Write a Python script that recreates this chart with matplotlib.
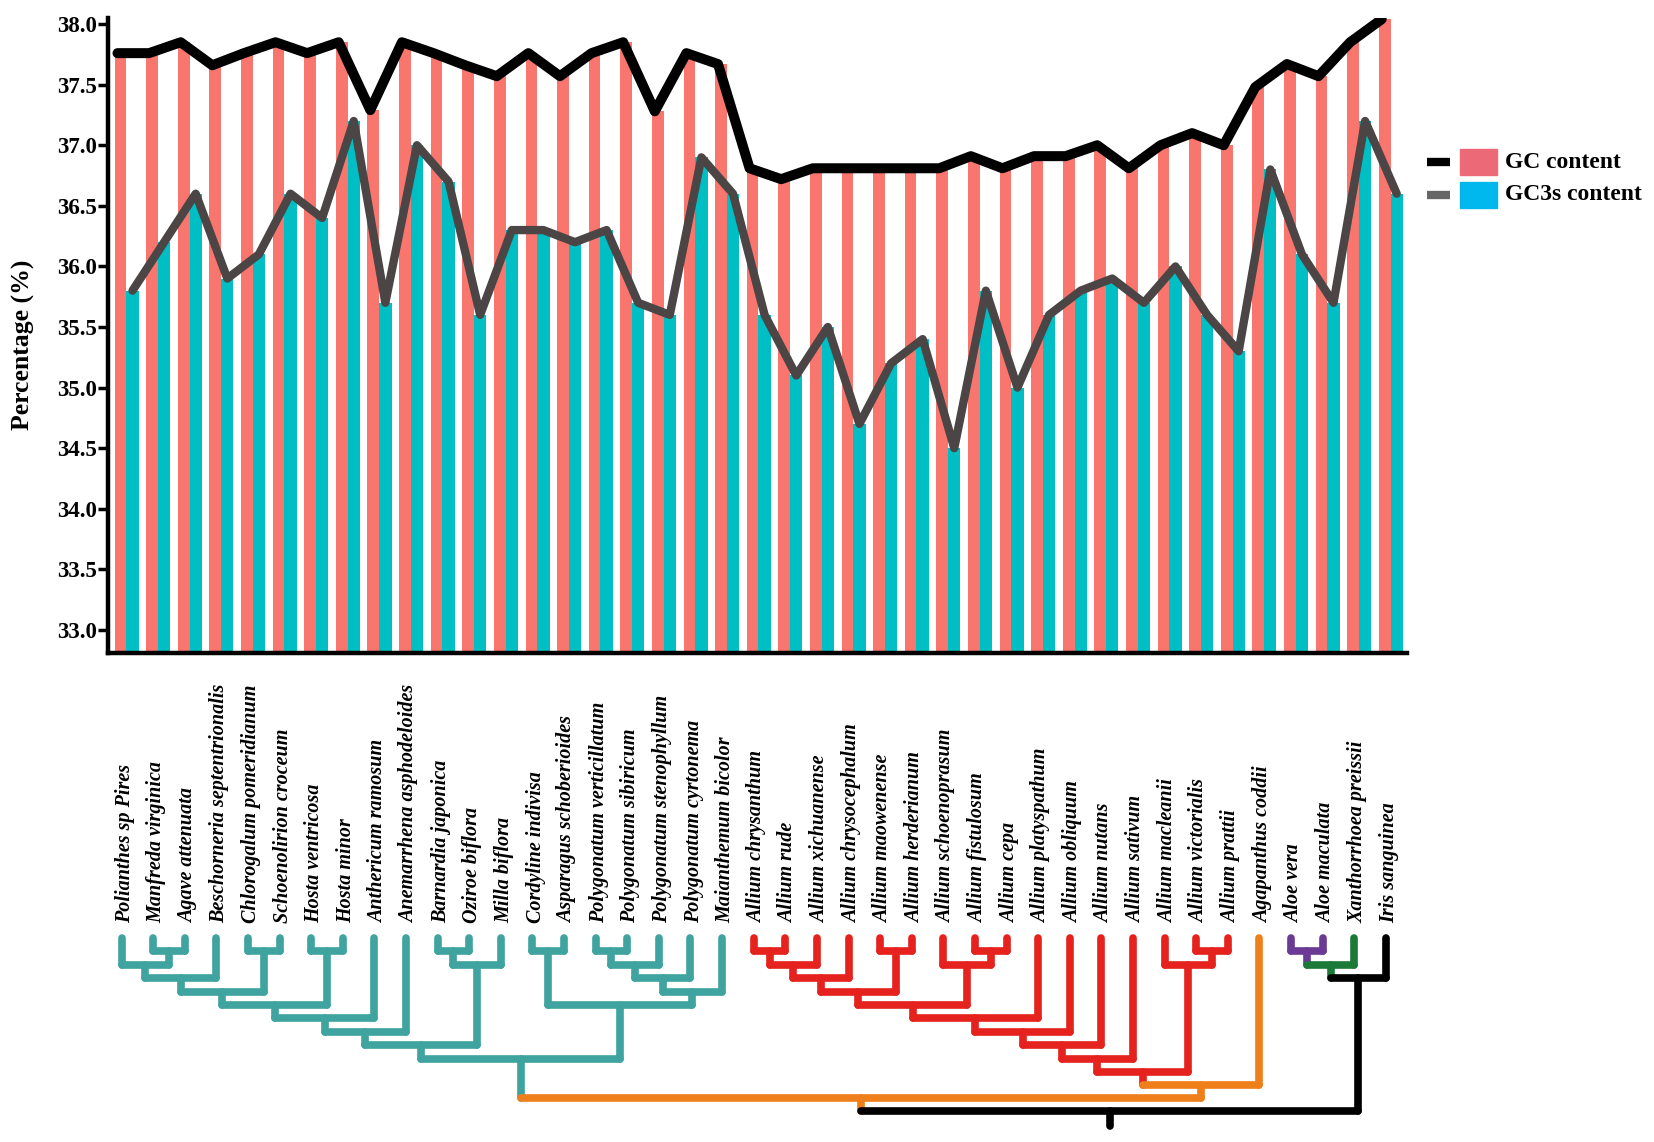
import matplotlib
matplotlib.use("Agg")
import matplotlib.pyplot as plt
from matplotlib.lines import Line2D
from matplotlib.patches import Rectangle
import numpy as np

# -------------------------------
# DATA
# -------------------------------
species = [
    "Polianthes sp Pires", "Manfreda virginica", "Agave attenuata",
    "Beschorneria septentrionalis", "Chlorogalum pomeridianum",
    "Schoenolirion croceum", "Hosta ventricosa", "Hosta minor",
    "Anthericum ramosum", "Anemarrhena asphodeloides", "Barnardia japonica",
    "Oziroe biflora", "Milla biflora", "Cordyline indivisa",
    "Asparagus schoberioides", "Polygonatum verticillatum",
    "Polygonatum sibiricum", "Polygonatum stenophyllum",
    "Polygonatum cyrtonema", "Maianthemum bicolor",
    "Allium chrysanthum", "Allium rude", "Allium xichuanense",
    "Allium chrysocephalum", "Allium maowenense", "Allium herderianum",
    "Allium schoenoprasum", "Allium fistulosum", "Allium cepa",
    "Allium platyspathum", "Allium obliquum", "Allium nutans",
    "Allium sativum", "Allium macleanii", "Allium victorialis",
    "Allium prattii", "Agapanthus coddii", "Aloe vera", "Aloe maculata",
    "Xanthorrhoea preissii", "Iris sanguinea",
]

gc_content = [
    37.76, 37.76, 37.85, 37.66, 37.76, 37.85, 37.76, 37.85, 37.29, 37.85,
    37.76, 37.66, 37.57, 37.76, 37.57, 37.76, 37.85, 37.28, 37.76, 37.67,
    36.81, 36.72, 36.81, 36.81, 36.81, 36.81, 36.81, 36.91, 36.81, 36.91,
    36.91, 37.00, 36.81, 37.00, 37.10, 37.00, 37.48, 37.67, 37.57, 37.85,
    38.04,
]

gc3s_content = [
    35.8, 36.2, 36.6, 35.9, 36.1, 36.6, 36.4, 37.2, 35.7, 37.0,
    36.7, 35.6, 36.3, 36.3, 36.2, 36.3, 35.7, 35.6, 36.9, 36.6,
    35.6, 35.1, 35.5, 34.7, 35.2, 35.4, 34.5, 35.8, 35.0, 35.6,
    35.8, 35.9, 35.7, 36.0, 35.6, 35.3, 36.8, 36.1, 35.7, 37.2,
    36.6,
]

y_ticks = [33.0, 33.5, 34.0, 34.5, 35.0, 35.5, 36.0, 36.5, 37.0, 37.5, 38.0]

# clade colour of every leaf
leaf_clade = (["teal"] * 20 + ["red"] * 16 + ["orange"] +
              ["purple"] * 2 + ["green"] + ["black"])

# tree: (clade, height, children); ints are leaf indices
teal_clade = ("teal", 9, [
    ("teal", 8, [
        ("teal", 7, [
            ("teal", 6, [
                ("teal", 5, [
                    ("teal", 4, [
                        ("teal", 3, [("teal", 2, [0, ("teal", 1, [1, 2])]), 3]),
                        ("teal", 1, [4, 5])]),
                    ("teal", 1, [6, 7])]),
                8]),
            9]),
        ("teal", 2, [("teal", 1, [10, 11]), 12])]),
    ("teal", 5, [
        ("teal", 1, [13, 14]),
        ("teal", 4, [("teal", 3, [("teal", 2, [("teal", 1, [15, 16]), 17]), 18]), 19])]),
])

red_clade = ("red", 10, [
    ("red", 9, [
        ("red", 8, [
            ("red", 7, [
                ("red", 6, [
                    ("red", 5, [
                        ("red", 4, [
                            ("red", 3, [("red", 2, [("red", 1, [20, 21]), 22]), 23]),
                            ("red", 1, [24, 25])]),
                        ("red", 2, [26, ("red", 1, [27, 28])])]),
                    29]),
                30]),
            31]),
        32]),
    ("red", 2, [33, ("red", 1, [34, 35])]),
])

tree = ("black", 12.9, [
    ("orange", 11.95, [teal_clade, ("orange", 11, [red_clade, 36])]),
    ("black", 3, [("green", 2, [("purple", 1, [37, 38]), 39]), 40]),
])
root_stem_end = 14

clade_colors = {
    "teal": "#3FA39F", "red": "#E5221D", "orange": "#EF7F1A",
    "purple": "#6A3A95", "green": "#1C7A38", "black": "#000000",
}

# -------------------------------
# FIGURE
# -------------------------------
plt.rcParams['font.family'] = ['Liberation Serif', 'DejaVu Serif']

W, H = 1654, 1142
fig = plt.figure(figsize=(W / 100, H / 100), dpi=100)


def px_box(left, top, right, bottom):
    return [left / W, 1 - bottom / H, (right - left) / W, (bottom - top) / H]


# -------------------------------
# BARS + LINES
# -------------------------------
ax = fig.add_axes(px_box(108, 18, 1407, 653))
x = np.arange(len(species))

ax.bar(x - 0.185, gc_content, width=0.37, color="#F8766D", zorder=1)
ax.bar(x + 0.195, gc3s_content, width=0.39, color="#00BFC4", zorder=1)
ax.plot(x + 0.195, gc3s_content, color="#4B4545", lw=6,
        solid_joinstyle="round", solid_capstyle="round", zorder=3)
ax.plot(x - 0.28, gc_content, color="black", lw=7.2,
        solid_joinstyle="round", solid_capstyle="round", zorder=4)

ax.set_xlim(-0.58, 40.52)
ax.set_ylim(32.81, 38.05)
ax.set_xticks([])
ax.set_yticks(y_ticks)
ax.set_yticklabels([f"{v:.1f}" for v in y_ticks], fontsize=16.5, fontweight="bold")
ax.tick_params(axis="y", length=7, width=2.5, pad=1)
for side in ["top", "right"]:
    ax.spines[side].set_visible(False)
for side in ["left", "bottom"]:
    ax.spines[side].set_linewidth(3.2)
    ax.spines[side].set_zorder(5)

fig.text(23 / W, 1 - 345 / H, "Percentage (%)", rotation=90, ha="center",
         va="center", fontsize=18.5, fontweight="bold")

# -------------------------------
# LEGEND (line + box per row)
# -------------------------------
legend_rows = [("GC content", "black", "#EC6A78", 162),
               ("GC3s content", "#666666", "#00B7EE", 195)]
for label, line_col, box_col, yc in legend_rows:
    fig.add_artist(Line2D([1427 / W, 1450 / W], [1 - yc / H] * 2, color=line_col,
                          lw=6, solid_capstyle="butt", transform=fig.transFigure))
    fig.add_artist(Rectangle((1460 / W, 1 - (yc + 12.5) / H), 37 / W, 25 / H,
                             color=box_col, transform=fig.transFigure))
    fig.text(1505 / W, 1 - yc / H, label, ha="left", va="center",
             fontsize=17, fontweight="bold")

# -------------------------------
# TREE + SPECIES LABELS
# -------------------------------
tax = fig.add_axes(px_box(108, 680, 1407, 1142))
tax.set_xlim(-0.58, 40.52)
tax.set_ylim(15.22, -19.25)
tax.axis("off")

TREE_LW = 5.5


def seg(xs, ys, color):
    tax.plot(xs, ys, color=clade_colors[color], lw=TREE_LW,
             solid_capstyle="round", zorder=2)


def draw_node(node):
    """Returns (x, height, clade) of a node after drawing its subtree."""
    if isinstance(node, int):
        return node - 0.15, 0, leaf_clade[node]
    clade, height, children = node
    xs = []
    for child in children:
        cx, ch, cc = draw_node(child)
        seg([cx, cx], [ch, height], cc)
        xs.append(cx)
    seg([min(xs), max(xs)], [height, height], clade)
    return (min(xs) + max(xs)) / 2, height, clade


rx, rh, rc = draw_node(tree)
seg([rx, rx], [rh, root_stem_end], rc)

for i, name in enumerate(species):
    tax.text(i - 0.05, -1.1, name, rotation=90, ha="center", va="bottom",
             fontsize=14.5, fontweight="bold", fontstyle="italic")

plt.savefig("out.png", dpi=100)
plt.close()
